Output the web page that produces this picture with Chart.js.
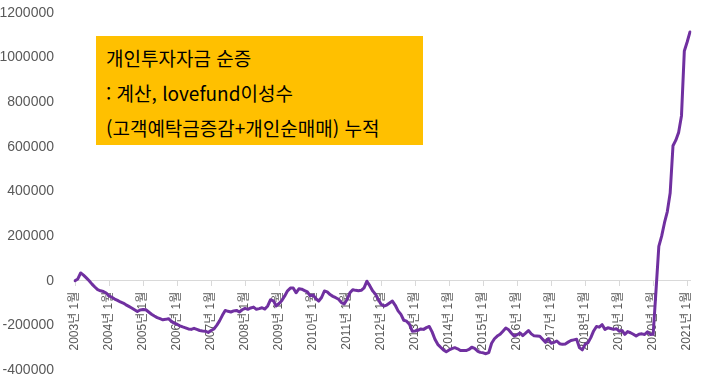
<!DOCTYPE html>
<html lang="ko">
<head>
<meta charset="utf-8">
<title>개인투자자금 순증</title>
<script src="https://cdn.jsdelivr.net/npm/chart.js@4.4.0/dist/chart.umd.min.js"></script>
<style>
    body { margin: 0; background: #fff; }
    #wrap { position: relative; width: 701px; height: 381px; }
    #note {
        position: absolute; left: 96px; top: 36px; width: 327px; height: 109px;
        box-sizing: border-box; padding: 4px 0 0 10px;
        background: #FFC000; color: #000;
        font: 19px "Noto Sans CJK KR", "Noto Sans", sans-serif; line-height: 35px;
        white-space: nowrap;
    }
</style>
</head>
<body>
<div id="wrap">
    <canvas id="flowChart" width="701" height="381"></canvas>
    <div id="note">
        <div>개인투자자금 순증</div>
        <div>: 계산, lovefund이성수</div>
        <div>(고객예탁금증감+개인순매매) 누적</div>
    </div>
</div>
<script>
// x축: 2003년 1월 ~ 2021년 2월 (월별)
const startYear = 2003;
const monthCount = 218;

// y축 눈금
const yMin = -400000;
const yMax = 1200000;
const yStep = 200000;

// 누적 순증 (한 줄 = 1년)
const netFlow = [
    0, 8000, 35000, 25000, 13000, 0, -15000, -28000, -40000, -45000, -48000, -55000,                      // 2003
    -68000, -74000, -82000, -88000, -95000, -100000, -108000, -115000, -122000, -130000, -138000, -131000, // 2004
    -129000, -130000, -140000, -150000, -158000, -165000, -170000, -175000, -173000, -170000, -182000, -190000, // 2005
    -195000, -202000, -207000, -211000, -216000, -218000, -213000, -218000, -223000, -225000, -226000, -232000, // 2006
    -223000, -216000, -200000, -180000, -155000, -133000, -137000, -140000, -135000, -133000, -140000, -130000, // 2007
    -124000, -128000, -122000, -118000, -128000, -125000, -121000, -127000, -113000, -85000, -90000, -113000,  // 2008
    -102000, -88000, -68000, -45000, -33000, -32000, -54000, -36000, -38000, -44000, -50000, -68000,          // 2009
    -64000, -80000, -91000, -75000, -46000, -50000, -62000, -70000, -76000, -83000, -98000, -104000,          // 2010
    -84000, -54000, -40000, -43000, -45000, -43000, -32000, -2000, -22000, -45000, -60000, -84000,            // 2011
    -105000, -113000, -109000, -100000, -91000, -110000, -135000, -151000, -177000, -181000, -195000, -226000, // 2012
    -225000, -222000, -216000, -218000, -210000, -205000, -229000, -262000, -285000, -298000, -310000, -318000, // 2013
    -310000, -304000, -300000, -305000, -313000, -313000, -313000, -308000, -298000, -303000, -315000, -321000, // 2014
    -323000, -327000, -322000, -280000, -260000, -248000, -240000, -226000, -212000, -220000, -235000, -248000, // 2015
    -242000, -234000, -246000, -235000, -223000, -238000, -247000, -248000, -249000, -262000, -276000, -260000, // 2016
    -280000, -276000, -270000, -282000, -285000, -283000, -275000, -268000, -265000, -262000, -300000, -310000, // 2017
    -285000, -278000, -255000, -225000, -205000, -208000, -197000, -218000, -211000, -214000, -218000, -215000, // 2018
    -226000, -223000, -240000, -228000, -233000, -240000, -248000, -240000, -238000, -241000, -229000, -241000, // 2019
    -240000, -45000, 154000, 200000, 260000, 310000, 393000, 605000, 630000, 665000, 740000, 1030000,         // 2020
    1070000, 1115000                                                                                        // 2021
];

// 월별 카테고리 라벨
const months = [];
for (let i = 0; i < monthCount; i++) {
    const y = startYear + Math.floor(i / 12);
    const m = (i % 12) + 1;
    months.push(y + '년 ' + m + '월');
}

const axisFont = '"Liberation Sans", "Noto Sans CJK KR", sans-serif';

// 축 라벨 때문에 생기는 자동 여백 제거 (차트 영역은 layout.padding 으로만)
function noAutoPadding(s) {
    s.paddingTop = 0;
    s.paddingBottom = 0;
    s.paddingLeft = 0;
    s.paddingRight = 0;
}

new Chart(document.getElementById('flowChart'), {
    type: 'line',
    data: {
        labels: months,
        datasets: [{
            label: '개인투자자금 순증',
            data: netFlow,
            borderColor: '#7030A0',
            borderWidth: 3,
            pointRadius: 0,
            tension: 0,
            fill: false,
            borderJoinStyle: 'round',
            borderCapStyle: 'round'
        }]
    },
    options: {
        responsive: false,
        animation: false,
        devicePixelRatio: 1,
        layout: { padding: { left: 0, right: 11, top: 13, bottom: 11 } },
        plugins: {
            legend: { display: false },
            tooltip: { enabled: false }
        },
        scales: {
            x: {
                position: { y: 0 },
                afterFit: noAutoPadding,
                grid: {
                    display: true,
                    drawOnChartArea: false,
                    drawTicks: true,
                    tickLength: 5,
                    color: '#d9d9d9'
                },
                border: { display: true, color: '#d9d9d9', width: 1 },
                ticks: {
                    autoSkip: false,
                    minRotation: 90,
                    maxRotation: 90,
                    padding: 6,
                    color: '#595959',
                    font: { family: axisFont, size: 12 },
                    callback: function(val, idx) {
                        return idx % 12 === 0 ? this.getLabelForValue(val) : null;
                    }
                }
            },
            y: {
                min: yMin,
                max: yMax,
                afterFit: s => { s.width = 75; noAutoPadding(s); },
                grid: { display: false },
                border: { display: false },
                ticks: {
                    stepSize: yStep,
                    padding: 13,
                    color: '#595959',
                    font: { family: axisFont, size: 14 },
                    callback: v => String(v)
                }
            }
        }
    }
});
</script>
</body>
</html>
